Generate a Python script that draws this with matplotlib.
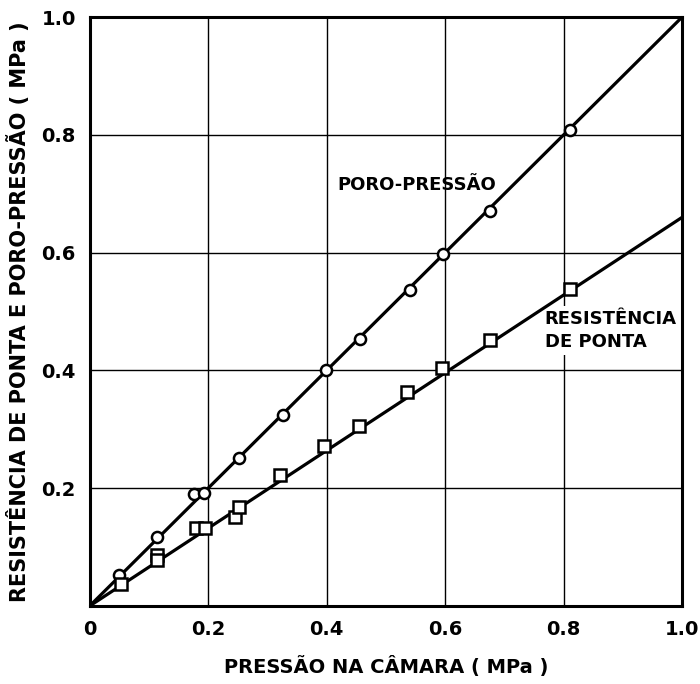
import matplotlib.pyplot as plt

# pontos (MPa)
poro_x = [0.050, 0.113, 0.176, 0.193, 0.253, 0.326, 0.399, 0.457, 0.540, 0.597, 0.675, 0.810]
poro_y = [0.053, 0.117, 0.190, 0.192, 0.252, 0.325, 0.401, 0.454, 0.536, 0.597, 0.670, 0.809]

resist_x = [0.053, 0.113, 0.113, 0.180, 0.195, 0.246, 0.253, 0.322, 0.396, 0.455, 0.535, 0.595, 0.675, 0.811]
resist_y = [0.037, 0.087, 0.078, 0.132, 0.132, 0.152, 0.168, 0.223, 0.272, 0.305, 0.364, 0.405, 0.451, 0.538]

# retas ajustadas
reta_x = [0.0, 1.0]
reta_poro = [0.0, 1.0]
reta_resist = [0.0, 0.66]

ticks = [0.0, 0.2, 0.4, 0.6, 0.8, 1.0]
xlabels = ["0", "0.2", "0.4", "0.6", "0.8", "1.0"]
ylabels = ["", "0.2", "0.4", "0.6", "0.8", "1.0"]

fig = plt.figure(figsize=(7, 6.84), dpi=100)
ax = fig.add_axes([0.128, 0.114, 0.8464, 0.861])

ax.plot(reta_x, reta_poro, color="black", lw=2.3, zorder=2)
ax.plot(reta_x, reta_resist, color="black", lw=2.3, zorder=2)
ax.plot(poro_x, poro_y, "o", ms=8, mfc="white", mec="black", mew=1.8, zorder=3)
ax.plot(resist_x, resist_y, "s", ms=8, mfc="white", mec="black", mew=1.8, zorder=3)

ax.set_xlim(0, 1)
ax.set_ylim(0, 1)
ax.set_xticks(ticks)
ax.set_yticks(ticks)
ax.set_xticklabels(xlabels, fontsize=14, fontweight="bold")
ax.set_yticklabels(ylabels, fontsize=14, fontweight="bold")
ax.tick_params(length=0, pad=10)
ax.grid(True, color="black", lw=1.0)
for s in ax.spines.values():
    s.set_linewidth(2.2)

ax.set_xlabel("PRESSÃO NA CÂMARA ( MPa )", fontsize=14, fontweight="bold", labelpad=12)
ax.set_ylabel("RESISTÊNCIA DE PONTA E PORO-PRESSÃO ( MPa )", fontsize=15, fontweight="bold", labelpad=8)

ax.text(0.553, 0.715, "PORO-PRESSÃO", fontsize=13, fontweight="bold", ha="center", va="center")
ax.text(0.768, 0.468, "RESISTÊNCIA\nDE PONTA", fontsize=13, fontweight="bold", ha="left", va="center", linespacing=1.35,
        bbox=dict(facecolor="white", edgecolor="none", pad=3), zorder=1.8)

fig.savefig("out.png", dpi=100)
